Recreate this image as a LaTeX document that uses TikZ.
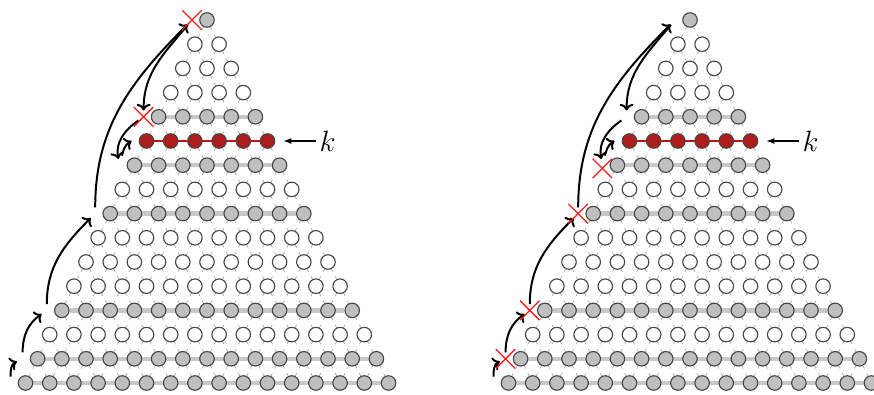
\documentclass[tikz,border=0pt]{standalone}
\usetikzlibrary{arrows.meta,shapes.misc,backgrounds}
\definecolor{siteGray}{HTML}{BFBFBF}
\definecolor{siteRed}{HTML}{AE1C1C}
\definecolor{siteEdge}{HTML}{474747}
\definecolor{barGray}{HTML}{C8C8C8}
\definecolor{tickGray}{HTML}{9A9A9A}
\definecolor{crossRed}{HTML}{FF1A1A}

\begin{document}
\begin{tikzpicture}[x=0.6cm,y=0.6cm,
  site/.style={circle,draw=siteEdge,line width=0.8pt,inner sep=0pt,minimum size=0.36cm},
  site 0/.style={site,fill=white},
  site 1/.style={site,fill=siteGray},
  site 2/.style={site,fill=siteRed},
  hop/.style={circle,inner sep=0pt,minimum size=0.3cm},
  crossmark/.style={cross out,draw=crossRed,line width=0.9pt,inner sep=0pt,minimum size=0.45cm},
  tick/.style={tickGray,line width=0.4pt,dash pattern=on 0.27cm off 0.13cm on 0.4cm},
  bar/.style={barGray,line width=3pt},
  redbar/.style={siteRed!70!red,line width=1pt},
  jump/.style={->,line width=1.4pt},
  klabel/.style={font=\huge,inner sep=2pt}]
  \useasboundingbox (0,0) rectangle (36.116,-16.281);

  \foreach \tri/\ax in {L/8.554,R/28.512}{
    % sites of the triangle
    \foreach \r in {1,...,16}{
      \pgfmathtruncatemacro\kind{\r==6 ? 2 : ((\r==1 || \r==5 || \r==7 || \r==9 || \r==13 || \r==15 || \r==16) ? 1 : 0)}
      \foreach \j in {1,...,\r}
        \node[site \kind] (\tri-\r-\j) at ({\ax+\j-(\r+1)/2},{0.174-\r}) {};
    }
    % lattice and rows
    \begin{scope}[on background layer]
      \foreach \r in {1,...,15}{
        \pgfmathtruncatemacro\rr{\r+1}
        \foreach \j in {1,...,\r}{
          \pgfmathtruncatemacro\jj{\j+1}
          \draw[tick] (\tri-\r-\j.center) -- (\tri-\rr-\j.center);
          \draw[tick] (\tri-\r-\j.center) -- (\tri-\rr-\jj.center);
        }
      }
      \foreach \r in {5,7,9,13,15,16}
        \draw[bar] (\tri-\r-1) -- (\tri-\r-\r);
      \draw[redbar] (\tri-6-1) -- (\tri-6-6);
    \end{scope}
    % hop points left of the rows
    \foreach \r in {1,5,6,7,9,13,15,16}
      \node[hop] (\tri-h-\r) at ({\ax+(1-\r)/2-0.62},{0.174-\r}) {};
    % jumps
    \draw[jump] (\tri-h-16.north) to[out=90,in=205] (\tri-h-15);
    \draw[jump] (\tri-h-15.north) to[out=90,in=215] (\tri-h-13);
    \draw[jump] (\tri-h-13.north) to[out=90,in=225] (\tri-h-9);
    \draw[jump] (\tri-h-9.north) to[out=90,in=225] (\tri-h-1);
    \draw[jump] (\tri-h-1) to[out=230,in=90] (\tri-h-5);
    \draw[jump] (\tri-h-5) to[out=215,in=100] (\tri-h-7);
    \draw[jump,shorten <=2.5pt] (\tri-h-7) to[out=75,in=210] (\tri-h-6.center);
    % row k
    \node[klabel] (\tri-k) at ({\ax+4.98},{0.174-6}) {$k$};
    \draw[-{Latex[length=2mm]},line width=0.8pt,shorten >=0.2cm] (\tri-k) -- (\tri-6-6);
  }
  \foreach \r in {1,5}
    \node[crossmark] (L-x\r) at (L-h-\r) {};
  \foreach \r in {9,13,15}
    \node[crossmark] (R-x\r) at (R-h-\r) {};
  \node[crossmark,yshift=-0.08cm] (R-x7) at (R-h-7) {};
\end{tikzpicture}
\end{document}
